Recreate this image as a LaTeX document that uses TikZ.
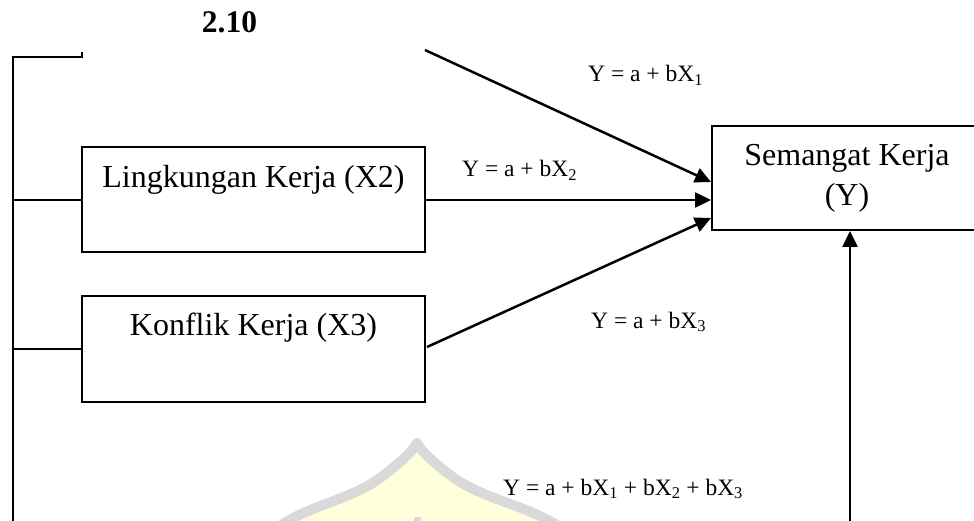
\documentclass[tikz,border=0pt]{standalone}
\usepackage{fontspec}
\setmainfont{Liberation Serif}
\usetikzlibrary{arrows.meta,calc}
\definecolor{domegray}{HTML}{D9D9D9}
\definecolor{domefill}{HTML}{FFFFDC}
\begin{document}
\begin{tikzpicture}[x=1pt,y=-1pt,
  varbox/.style={draw,line width=2pt,inner sep=0pt},
  boxtext/.style={anchor=base,inner sep=0pt,font=\fontsize{32}{38}\selectfont},
  eqtext/.style={anchor=base west,inner sep=0pt,font=\fontsize{23.5}{28}\selectfont},
  link/.style={line width=2pt},
  flow/.style={line width=2.5pt,-{Triangle[length=16pt,width=15pt]}}]
\useasboundingbox (0,0) rectangle (974,521);
\clip (0,0) rectangle (974,521);

% faint dome emblem in the background
\filldraw[fill=domefill,draw=domegray,line width=10pt,line join=round]
  (280,526) .. controls (310,505) and (350,500) .. (380,478)
  .. controls (400,463) and (412,452) .. (417,443)
  .. controls (422,452) and (434,463) .. (454,478)
  .. controls (486,500) and (526,505) .. (558,526);
\fill[domegray] (414,517) rectangle (421,521);

% heading
\node[anchor=base,inner sep=0pt,font=\fontsize{31.5}{36}\selectfont\bfseries] (title) at (229.5,33) {2.10};

% variable boxes
\node[varbox,minimum width=343pt,minimum height=105pt] (x2) at (253.5,200) {};
\node[boxtext] (x2t) at ($(x2.north)+(0,41)$) {Lingkungan Kerja (X2)};
\node[varbox,minimum width=343pt,minimum height=106pt] (x3) at (253.5,349) {};
\node[boxtext] (x3t) at ($(x3.north)+(0,40)$) {Konflik Kerja (X3)};
\node[varbox,minimum width=270pt,minimum height=104pt] (y) at (847,178) {};
\node[boxtext] (yt1) at ($(y.north)+(0,41)$) {Semangat Kerja};
\node[boxtext] (yt2) at ($(y.north)+(0,81)$) {(Y)};

% bracket on the left joining the inputs
\coordinate (x1end) at (82,52);
\coordinate (rail) at (13,57);
\coordinate (railend) at (13,530);
\draw[link] (x1end) -- (x1end |- rail) -- (rail) -- (railend);
\draw[link] (rail |- x2.west) -- (x2.west);
\draw[link] (rail |- x3.west) -- (x3.west);

% regression arrows into Semangat Kerja
\coordinate (x1out) at (425,50);
\coordinate (x3out) at (427,347);
\coordinate (bottom) at (850,530);
\draw[flow] (x1out) -- (y.west |- 0,182);
\draw[flow] (x2.east) -- (y.west |- x2.east);
\draw[flow] (x3out) -- (y.west |- 0,218);
\draw[flow] (bottom) -- (bottom |- y.south);

% equations
\node[eqtext] (e1) at (588,82) {Y = a + bX\textsubscript{1}};
\node[eqtext] (e2) at (462,177) {Y = a + bX\textsubscript{2}};
\node[eqtext] (e3) at (591,328) {Y = a + bX\textsubscript{3}};
\node[eqtext] (e4) at (503,495) {Y = a + bX\textsubscript{1} + bX\textsubscript{2} + bX\textsubscript{3}};
\end{tikzpicture}
\end{document}
